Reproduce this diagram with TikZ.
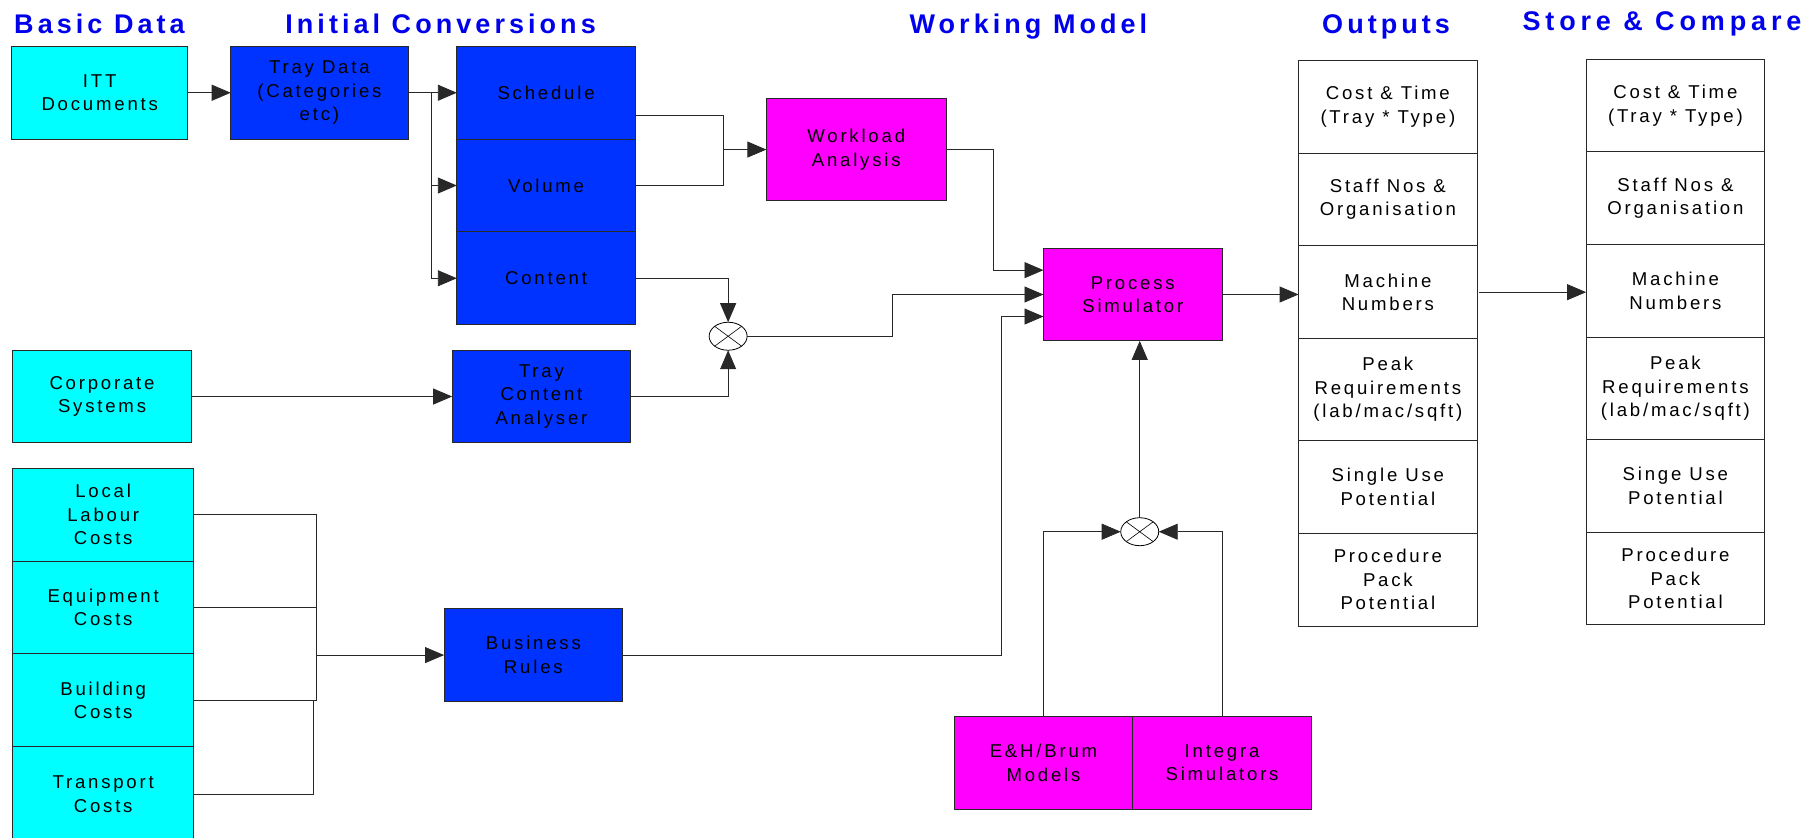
\documentclass[tikz,border=0pt]{standalone}
\usepackage{fontspec}
\setmainfont{Liberation Sans}[LetterSpace=15]
\usetikzlibrary{arrows.meta,shapes.geometric}
\definecolor{cy}{RGB}{0,255,255}
\definecolor{bl}{RGB}{0,51,255}
\definecolor{mg}{RGB}{255,0,255}
\definecolor{tt}{RGB}{0,0,235}
\definecolor{ln}{RGB}{40,40,40}
\def\sc{1.1594}
\newcommand{\bx}[7]{\node[box,fill=#6,minimum width={(#4-#2)*\sc*1pt},minimum height={(#5-#3)*\sc*1pt}] (#1) at ({(#2+#4)/2},{(#3+#5)/2}) {#7};}
\begin{document}
\begin{tikzpicture}[x=1.1594pt,y=-1.1594pt,
  box/.style={draw=ln,line width=0.9pt,inner sep=0pt,outer sep=0pt,align=center,font=\fontsize{18.6}{23.5}\selectfont},
  ttl/.style={text=tt,font=\fontsize{27}{30}\selectfont\bfseries,anchor=base,inner sep=0pt},
  wire/.style={draw=ln,line width=0.9pt},
  arr/.style={wire,-{Triangle[length=19pt,width=16pt]}},
  mix/.style={ellipse,draw=black,fill=white,line width=0.8pt,minimum width=38pt,minimum height=28pt,inner sep=0pt,outer sep=0pt}]
\useasboundingbox (0,0) rectangle (1568,722);

% titles
\node[ttl] (t1) at (85.8,28.5) {Basic Data};
\node[ttl] (t2) at (380,28.5) {Initial Conversions};
\node[ttl] (t3) at (887,28.5) {Working Model};
\node[ttl] (t4) at (1195.5,28.5) {Outputs};
\node[ttl,anchor=base west] (t5) at (1313,26.5) {\addfontfeature{LetterSpace=18}Store \& Compare};

% boxes
\bx{itt}{10}{40}{162}{120}{cy}{ITT\\Documents}
\bx{tray}{199}{40}{352}{120}{bl}{Tray Data\\(Categories\\etc)}
\bx{sched}{394}{40}{548}{120}{bl}{Schedule}
\bx{vol}{394}{120}{548}{200}{bl}{Volume}
\bx{cont}{394}{200}{548}{280}{bl}{Content}
\bx{work}{661}{85}{816}{173}{mg}{Workload\\Analysis}
\bx{ps}{900}{214}{1054}{294}{mg}{Process\\Simulator}
\bx{corp}{11}{302}{165}{382}{cy}{Corporate\\Systems}
\bx{tca}{390}{302}{544}{382}{bl}{Tray\\Content\\Analyser}
\bx{lab}{11}{404}{167}{484}{cy}{Local\\Labour\\Costs}
\bx{equip}{11}{484}{167}{564}{cy}{Equipment\\Costs}
\bx{build}{11}{564}{167}{644}{cy}{Building\\Costs}
\bx{trans}{11}{644}{167}{726}{cy}{Transport\\Costs}
\bx{br}{383}{525}{537}{605}{bl}{Business\\Rules}
\bx{eh}{823}{618}{977}{698}{mg}{E\&H/Brum\\Models}
\bx{integ}{977}{618}{1131}{698}{mg}{Integra\\Simulators}

\bx{o1}{1120}{52}{1274}{132}{white}{Cost \& Time\\(Tray * Type)}
\bx{o2}{1120}{132}{1274}{212}{white}{Staff Nos \&\\Organisation}
\bx{o3}{1120}{212}{1274}{292}{white}{Machine\\Numbers}
\bx{o4}{1120}{292}{1274}{380}{white}{Peak\\Requirements\\(lab/mac/sqft)}
\bx{o5}{1120}{380}{1274}{460}{white}{Single Use\\Potential}
\bx{o6}{1120}{460}{1274}{540}{white}{Procedure\\Pack\\Potential}

\bx{s1}{1368}{51}{1522}{131}{white}{Cost \& Time\\(Tray * Type)}
\bx{s2}{1368}{131}{1522}{211}{white}{Staff Nos \&\\Organisation}
\bx{s3}{1368}{211}{1522}{291}{white}{Machine\\Numbers}
\bx{s4}{1368}{291}{1522}{379}{white}{Peak\\Requirements\\(lab/mac/sqft)}
\bx{s5}{1368}{379}{1522}{459}{white}{Singe Use\\Potential}
\bx{s6}{1368}{459}{1522}{539}{white}{Procedure\\Pack\\Potential}

% mixers
\node[mix] (c1) at (628,290) {};
\draw[line width=0.6pt] (c1.north west)--(c1.south east) (c1.north east)--(c1.south west);
\node[mix] (c2) at (983,458.6) {};
\draw[line width=0.6pt] (c2.north west)--(c2.south east) (c2.north east)--(c2.south west);

% junction coordinates
\coordinate (j1) at (372,80);
\coordinate (j2) at (624,129);
\coordinate (k1) at (273,444);
\coordinate (k2) at (273,565);
\coordinate (k3) at (273,604);

% connectors
\draw[arr] (itt) -- (tray);
\draw[wire] (tray.east) -- (j1);
\draw[arr] (j1) -- (sched);
\draw[arr] (j1) |- (vol);
\draw[arr] (j1) |- (cont);
\draw[wire] (sched.east |- 0,100) -| (j2);
\draw[wire] (vol.east) -| (j2);
\draw[arr] (j2) -- (work);
\draw[arr] (work.east) -| (857,233) -- (ps.west |- 0,233);
\draw[arr] (cont.east) -| (c1.north);
\draw[arr] (corp) -- (tca);
\draw[arr] (tca.east) -| (c1.south);
\draw[arr] (c1.east) -| (770,254) -- (ps.west);
\draw[arr] (br.east) -| (864,273) -- (ps.west |- 0,273);
\draw[arr] (eh.north) |- (c2.west);
\draw[arr] (integ.north) |- (c2.east);
\draw[arr] (c2.north) -- (c2.north |- ps.south);
\draw[arr] (ps.east) -- (ps.east -| o3.west);
\draw[arr] ([xshift=2pt]o3.east) -- (s3.west |- o3.east);

\draw[wire] (lab.east) -- (lab.east -| k1) -- (k3);
\draw[wire] (equip.east) -- (equip.east -| k1);
\draw[wire] (build.east) -- (k3);
\draw[wire] (trans.east) -- (270,685) -- (270,604);
\draw[arr] (k2) -- (br.west);
\end{tikzpicture}
\end{document}
